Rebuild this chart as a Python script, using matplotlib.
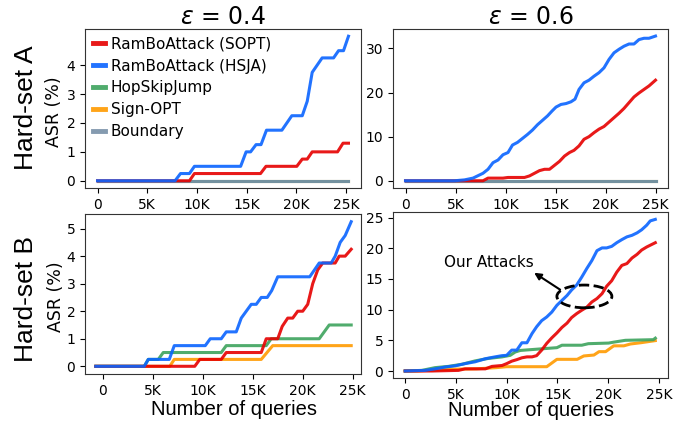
import matplotlib
matplotlib.use('Agg')
import matplotlib.pyplot as plt
from matplotlib.patches import Ellipse

# ---- data (x = number of queries, y = ASR %) ----
# Hard-set A, eps = 0.4
tl_x_hsja = [0, 7800, 8350, 9250, 9750, 14400, 14950, 15400, 15950, 16450, 17000, 18550, 19550,
             20600, 21100, 21600, 22600, 23750, 24250, 24750, 25250]
tl_y_hsja = [0, 0, 0.25, 0.25, 0.5, 0.5, 1.0, 1.0, 1.25, 1.25, 1.75, 1.75, 2.25,
             2.25, 2.75, 3.75, 4.25, 4.25, 4.5, 4.5, 5.0]
tl_x_sopt = [0, 9250, 9750, 16400, 16950, 20050, 20600, 21100, 21600, 24150, 24700, 25250]
tl_y_sopt = [0, 0, 0.25, 0.25, 0.5, 0.5, 0.75, 0.75, 1.0, 1.0, 1.3, 1.3]
tl_x_base = [0, 25250]
tl_y_hsj = [0, 0]
tl_y_signopt = [0, 0]
tl_y_boundary = [0, 0]

# Hard-set A, eps = 0.6
tr_x_hsja = [0, 4900, 5900, 6750, 7750, 8250, 8750, 9250, 9750, 10250,
             10700, 11200, 11700, 12200, 12700, 13200, 13700, 14200, 14650, 15050,
             15550, 16050, 16550, 16950, 17350, 17850, 18350, 18850, 19350, 19850,
             20350, 20850, 21350, 21850, 22350, 22850, 23350, 23850, 24350, 25000]
tr_y_hsja = [0, 0, 0.2, 0.6, 1.7, 2.6, 4.1, 4.7, 5.9, 6.4,
             8.1, 8.7, 9.6, 10.5, 11.5, 12.7, 13.7, 14.7, 15.8, 16.7,
             17.3, 17.5, 17.9, 18.5, 20.7, 22.2, 22.8, 23.7, 24.5, 25.6,
             27.5, 29.0, 29.8, 30.5, 31.0, 31.0, 32.0, 32.3, 32.3, 32.8]
tr_x_sopt = [0, 7750, 8250, 9750, 10250, 11900, 12400, 12900, 13400, 13900,
             14400, 14900, 15400, 15900, 16400, 16850, 17350, 17850, 18350, 18850,
             19350, 19850, 20350, 20850, 21350, 21850, 22350, 22850, 23350, 23850,
             24350, 25000]
tr_y_sopt = [0, 0, 0.6, 0.6, 0.75, 0.75, 1.1, 1.7, 2.3, 2.6,
             2.6, 3.5, 4.4, 5.6, 6.4, 6.9, 7.9, 9.4, 10.0, 10.9,
             11.7, 12.3, 13.3, 14.3, 15.3, 16.4, 17.7, 19.0, 19.9, 20.7,
             21.5, 22.8]
tr_x_base = [0, 25000]
tr_y_hsj = [0, 0]
tr_y_signopt = [0, 0]
tr_y_boundary = [0, 0]

# Hard-set B, eps = 0.4
bl_x_hsja = [-700, 4150, 4550, 6650, 7150, 10250, 10750, 11850, 12350, 13350, 13850, 14850,
             15350, 15850, 16450, 16900, 17500, 20700, 21650, 22850, 23250, 23750, 24250, 24850]
bl_y_hsja = [0, 0, 0.25, 0.25, 0.75, 0.75, 1.0, 1.0, 1.25, 1.25, 1.75, 2.25,
             2.25, 2.5, 2.5, 2.75, 3.25, 3.25, 3.75, 3.75, 4.0, 4.5, 4.75, 5.25]
bl_x_sopt = [-700, 9200, 9700, 11850, 12350, 15850, 16350, 17500, 17950, 18500, 19000,
             19500, 20000, 20500, 21000, 21500, 22000, 23250, 23650, 24250, 24850]
bl_y_sopt = [0, 0, 0.25, 0.25, 0.5, 0.5, 1.0, 1.0, 1.45, 1.75, 1.75,
             2.0, 2.0, 2.25, 3.0, 3.5, 3.75, 3.75, 4.0, 4.0, 4.25]
bl_x_hsj = [-700, 4150, 4550, 5550, 6050, 11850, 12350, 16350, 16850, 21650, 22650, 24850]
bl_y_hsj = [0, 0, 0.25, 0.25, 0.5, 0.5, 0.75, 0.75, 1.0, 1.0, 1.5, 1.5]
bl_x_signopt = [-700, 6700, 7150, 15850, 17000, 24850]
bl_y_signopt = [0, 0, 0.25, 0.25, 0.75, 0.75]

# Hard-set B, eps = 0.6
br_x_hsja = [0, 1950, 2950, 3950, 4950, 5900, 6900, 7900, 8850, 9550,
             10000, 10500, 11000, 11500, 12000, 12500, 12950, 13450, 13950, 14450,
             14950, 15450, 15950, 16400, 16900, 17400, 17900, 18400, 18900, 19400,
             19850, 20350, 20850, 21350, 21850, 22350, 22850, 23300, 23800, 24150, 24650]
br_y_hsja = [0, 0.1, 0.35, 0.65, 0.85, 1.2, 1.5, 2.0, 2.3, 2.5,
             2.55, 3.4, 3.4, 4.6, 4.6, 6.1, 7.2, 8.2, 8.8, 9.6,
             10.7, 11.5, 12.3, 13.2, 14.0, 15.3, 16.7, 18.0, 19.6, 20.05,
             20.05, 20.3, 20.9, 21.4, 21.85, 22.1, 22.5, 23.0, 23.75, 24.45, 24.7]
br_x_sopt = [0, 2650, 5250, 5900, 7900, 8550, 9550, 10000, 10500, 11000,
             11500, 12000, 12500, 12950, 13450, 13950, 14450, 14950, 15450, 15950,
             16400, 16900, 17400, 17900, 18400, 18900, 19400, 19850, 20350, 20850,
             21350, 21850, 22350, 22850, 23300, 23800, 24650]
br_y_sopt = [0, 0, 0.1, 0.35, 0.35, 0.75, 0.9, 1.2, 1.6, 1.85,
             2.15, 2.3, 2.3, 2.5, 3.4, 4.5, 5.4, 6.2, 7.1, 7.8,
             8.7, 9.35, 9.9, 10.4, 11.25, 11.8, 12.6, 13.8, 14.7, 16.1,
             17.2, 17.5, 18.4, 19.0, 19.7, 20.2, 20.9]
br_x_hsj = [0, 1650, 2950, 4250, 5600, 6900, 8200, 9550, 10350, 10850,
            11350, 14950, 15450, 17400, 18050, 20050, 20550, 21700, 24450, 24650]
br_y_hsj = [0, 0.1, 0.55, 0.75, 1.1, 1.65, 2.05, 2.3, 2.55, 3.1,
            3.35, 3.8, 4.2, 4.2, 4.45, 4.55, 4.7, 5.0, 5.1, 5.35]
br_x_signopt = [0, 1200, 3300, 4900, 7000, 9000, 10000, 11500, 13950, 14950,
                16950, 17600, 18600, 19100, 19750, 20550, 21550, 22200, 23200, 24650]
br_y_signopt = [0, 0, 0.2, 0.3, 0.35, 0.55, 0.7, 0.7, 0.7, 1.9,
                1.9, 2.45, 2.6, 3.15, 3.15, 4.1, 4.1, 4.4, 4.6, 4.95]

xtick_vals = [0, 5000, 10000, 15000, 20000, 25000]
xtick_labels = ['0', '5K', '10K', '15K', '20K', '25K']

names = ['RamBoAttack (SOPT)', 'RamBoAttack (HSJA)', 'HopSkipJump', 'Sign-OPT', 'Boundary']
colors = ['#e60000', '#0a64ff', '#3da35d', '#ff9a00', '#7890a8']
zorders = [4, 5, 2, 1, 3]

fig = plt.figure(figsize=(6.83, 4.21), dpi=100)
W, H = 683, 421


def add_ax(left, right, top, bottom):
    return fig.add_axes([left / W, 1 - bottom / H, (right - left) / W, (bottom - top) / H])


ax_tl = add_ax(85, 361, 29, 188)
ax_tr = add_ax(393, 668, 29, 188)
ax_bl = add_ax(85, 361, 214, 374)
ax_br = add_ax(393, 668, 212, 378)

panels = [
    (ax_tl, [(tl_x_sopt, tl_y_sopt), (tl_x_hsja, tl_y_hsja), (tl_x_base, tl_y_hsj),
             (tl_x_base, tl_y_signopt), (tl_x_base, tl_y_boundary)]),
    (ax_tr, [(tr_x_sopt, tr_y_sopt), (tr_x_hsja, tr_y_hsja), (tr_x_base, tr_y_hsj),
             (tr_x_base, tr_y_signopt), (tr_x_base, tr_y_boundary)]),
    (ax_bl, [(bl_x_sopt, bl_y_sopt), (bl_x_hsja, bl_y_hsja), (bl_x_hsj, bl_y_hsj),
             (bl_x_signopt, bl_y_signopt)]),
    (ax_br, [(br_x_sopt, br_y_sopt), (br_x_hsja, br_y_hsja), (br_x_hsj, br_y_hsj),
             (br_x_signopt, br_y_signopt)]),
]

for ax, series in panels:
    for i, (xs, ys) in enumerate(series):
        ax.plot(xs, ys, color=colors[i], lw=2.2, alpha=0.9, zorder=zorders[i], label=names[i])
    ax.set_xticks(xtick_vals)
    ax.set_xticklabels(xtick_labels)
    ax.tick_params(labelsize=10, length=3.5, width=0.8)
    for s in ax.spines.values():
        s.set_color('#333333')

ax_tl.set_xlim(-1260, 26510)
ax_tl.set_ylim(-0.25, 5.25)
ax_tl.set_yticks([0, 1, 2, 3, 4])
ax_tr.set_xlim(-1250, 26250)
ax_tr.set_ylim(-1.64, 34.4)
ax_tr.set_yticks([0, 10, 20, 30])
ax_bl.set_xlim(-1780, 25830)
ax_bl.set_ylim(-0.28, 5.53)
ax_bl.set_yticks([0, 1, 2, 3, 4, 5])
ax_br.set_xlim(-1200, 25900)
ax_br.set_ylim(-1.14, 25.9)
ax_br.set_yticks([0, 5, 10, 15, 20, 25])

# legend (top-left panel only)
leg = ax_tl.legend(loc='upper left', frameon=False, fontsize=11, handlelength=0.8,
                   handletextpad=0.4, labelspacing=0.45, borderaxespad=0.2,
                   borderpad=0.3)
for h in leg.legend_handles:
    h.set_linewidth(3.5)
    h.set_alpha(0.9)

ax_tl.set_title(r'$\epsilon$ = 0.4', fontsize=17, pad=3)
ax_tr.set_title(r'$\epsilon$ = 0.6', fontsize=17, pad=3)

fig.text(26 / W, 1 - 108 / H, 'Hard-set A', rotation=90, fontsize=19,
         family='Liberation Sans', ha='center', va='center')
fig.text(26 / W, 1 - 299 / H, 'Hard-set B', rotation=90, fontsize=19,
         family='Liberation Sans', ha='center', va='center')
fig.text(54 / W, 1 - 112 / H, 'ASR (%)', rotation=90, fontsize=12.5, ha='center', va='center')
fig.text(56 / W, 1 - 297 / H, 'ASR (%)', rotation=90, fontsize=12.5, ha='center', va='center')

ax_bl.set_xlabel('Number of queries', fontsize=14.5, family='Liberation Sans')
ax_bl.xaxis.set_label_coords(0.54, -0.165)
ax_br.set_xlabel('Number of queries', fontsize=14.5, family='Liberation Sans')
ax_br.xaxis.set_label_coords(0.5, -0.14)

# annotation in the bottom-right panel
ax_br.add_patch(Ellipse((17660, 12.15), 5420, 3.7, fill=False, ls='--', lw=2,
                        ec='black', zorder=6))
ax_br.annotate('', xy=(12480, 16.25), xytext=(15500, 13.0),
               arrowprops=dict(arrowstyle='-|>', color='black', lw=1.5, mutation_scale=10))
ax_br.text(3780, 17.66, 'Our Attacks', fontsize=11, ha='left', va='center')

fig.savefig('out.png', dpi=100)
